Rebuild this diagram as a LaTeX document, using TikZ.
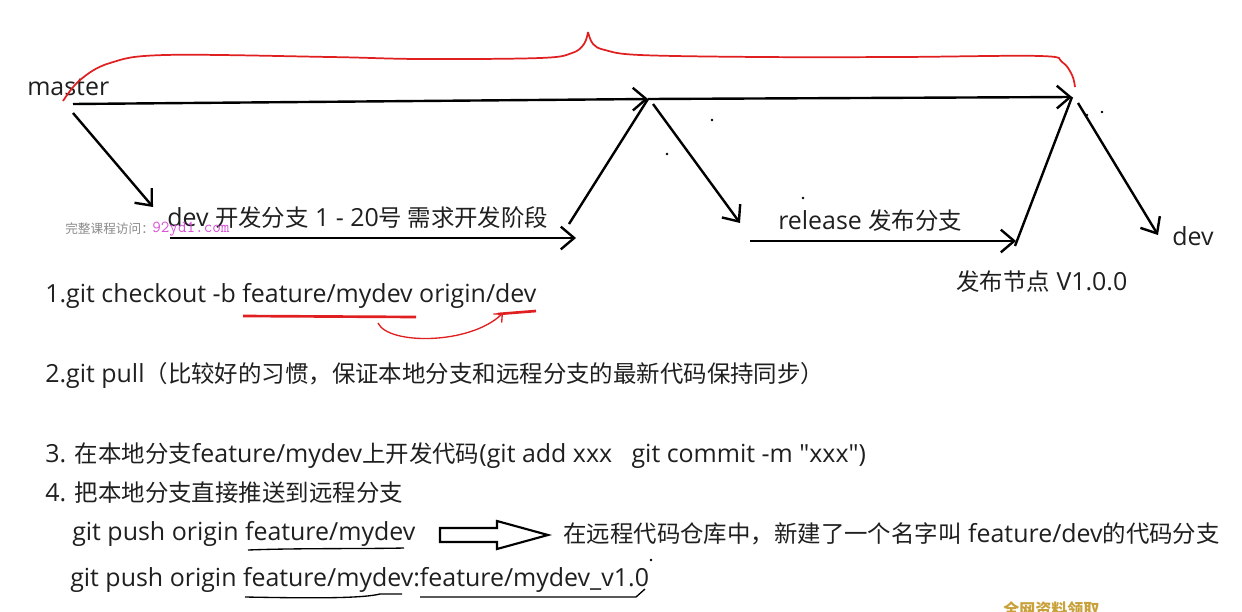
\documentclass[tikz,border=0pt]{standalone}
\usepackage{fontspec}
\setmainfont{Noto Sans CJK SC}
\newfontfamily\lat{Open Sans}
\newfontfamily\cjk{Noto Sans CJK SC}[Scale=0.94]
\newfontfamily\cjkplain{Noto Sans CJK SC}
\usetikzlibrary{arrows.meta}
\definecolor{wmgray}{HTML}{8A8A8A}
\definecolor{wmpink}{HTML}{D850D8}
\definecolor{wmgold}{HTML}{C9A13A}
\definecolor{pen}{HTML}{E02020}
\begin{document}
\begin{tikzpicture}[x=0.75pt,y=-0.75pt,
  txt/.style={font=\lat\fontsize{18.7}{22}\selectfont, inner sep=0pt, anchor=west, text=black!88},
  arr/.style={line width=1.8pt, -{Straight Barb[length=10pt,width=17pt,line width=1.8pt]}},
  ln/.style={line width=1.8pt},
  redline/.style={pen, line width=1.3pt},
  uline/.style={black, line width=1pt},
  dot/.style={fill=black}]
\useasboundingbox (0,0) rectangle (1242,611);

% labels
\node[txt] (master) at (27,87) {master};
\node[txt] (devlbl) at (167,218) {dev {\cjk 开发分支} 1 - 20{\cjk 号 需求开发阶段}};
\node[txt] (rellbl) at (778,221) {release {\cjk 发布分支}};
\node[txt] (devr) at (1172,236) {dev};
\node[txt] (node) at (956,282) {{\cjk 发布节点} V1.0.0};

% junction coordinates
\coordinate (m0) at (73,104);
\coordinate (J1) at (648,99);
\coordinate (J1b) at (653,104);
\coordinate (J2) at (1072,97);
\coordinate (J2b) at (1078,103);
\coordinate (d0) at (73,113);
\coordinate (d1) at (153,207);
\coordinate (d2) at (170,238);
\coordinate (d3) at (576,238);
\coordinate (d4) at (569,224);
\coordinate (r1) at (740,223);
\coordinate (r2) at (750,241);
\coordinate (r3) at (1016,241);
\coordinate (r4) at (1015,246);
\coordinate (v1) at (1158,235);

% master line
\draw[arr] (m0) -- (J1);
\draw[arr] (J1) -- (J2);
% to dev
\draw[arr] (d0) -- (d1);
\draw[arr] (d2) -- (d3);
\draw[ln] (d4) -- (J1);
% to release
\draw[arr] (J1b) -- (r1);
\draw[arr] (r2) -- (r3);
\draw[ln] (r4) -- (J2);
% back to dev
\draw[arr] (J2b) -- (v1);

% red brace
\draw[redline] plot[smooth, tension=0.6] coordinates {(63,101) (80,80) (110,63) (165,55) (330,57) (420,59) (540,58) (572,53) (584,44) (588,32)};
\draw[redline] plot[smooth, tension=0.6] coordinates {(588,32) (593,44) (605,50) (640,55) (760,57) (900,57) (1040,56) (1062,62) (1072,75) (1075,87)};

% stray dots
\foreach \p in {(670,127),(712,120),(667,154),(803,198),(1087,115),(1102,112),(651,560)}
  \fill[dot] \p circle (1.3);

% watermark
\node[inner sep=0pt, anchor=west, text=wmgray, font=\cjkplain\fontsize{9.5}{11}\selectfont] (wm1) at (65,229) {完整课程访问：};
\node[inner sep=0pt, anchor=west, text=wmpink, font=\ttfamily\fontsize{12.5}{14}\selectfont] (wm2) at (152,229) {92yd1.com};

% steps
\node[txt] (s1) at (45,296) {1.git checkout -b feature/mydev origin/dev};
\node[txt] (s2) at (45,375) {2.git pull{\cjk （比较好的习惯，保证本地分支和远程分支的最新代码保持同步）}};
\node[txt] (s3) at (45,456) {3. {\cjk 在本地分支}feature/mydev{\cjk 上开发代码}(git add xxx \ \ git commit -m "xxx")};
\node[txt] (s4) at (45,493) {4. {\cjk 把本地分支直接推送到远程分支}};
\node[txt] (p1) at (72,534) {git push origin feature/mydev};
\node[txt] (p1r) at (563,534) {{\cjk 在远程代码仓库中，新建了一个名字叫} feature/dev{\cjk 的代码分支}};
\node[txt] (p2) at (70,580) {git push origin feature/mydev:feature/mydev\_v1.0};

% red marks on step 1
\coordinate (u1a) at (243,316);
\coordinate (u1b) at (416,317);
\coordinate (u2a) at (498,314);
\coordinate (u2b) at (536,311);
\coordinate (c0) at (378,323);
\coordinate (c1) at (503,313);
\draw[pen, line width=2pt] (u1a) -- (u1b);
\draw[pen, line width=2pt] (u2a) -- (u2b);
\draw[pen, line width=1pt, -{Straight Barb[length=5pt,width=9pt,line width=1pt]}] (c0) .. controls (388,345) and (470,345) .. (c1);

% hollow block arrow
\draw[line width=1.6pt, line join=miter] (440,528) -- (497,528) -- (497,521) -- (548,535) -- (497,549) -- (497,542) -- (440,542) -- cycle;

% black underlines
\draw[uline] (248,550) .. controls (300,548) and (360,549) .. (404,548);
\draw[uline] (245,597) .. controls (300,598) and (360,599) .. (380,594) -- (402,594);
\draw[uline] (420,597) -- (636,597) -- (645,589);

% corner watermark
\node[inner sep=0pt, anchor=west, text=wmgold, font=\cjkplain\bfseries\fontsize{12}{14}\selectfont] (wm3) at (1003,609) {全网资料领取};
\end{tikzpicture}
\end{document}
